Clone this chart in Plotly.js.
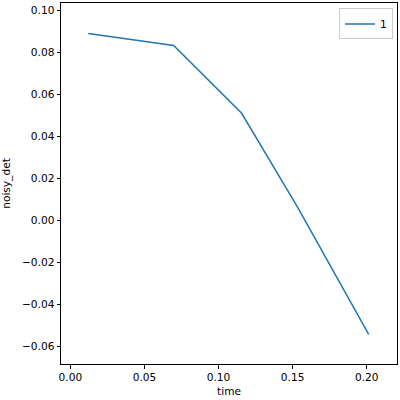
<!DOCTYPE html>
<html><head><meta charset="utf-8">
<script src="https://cdn.plot.ly/plotly-3.0.1.min.js"></script>
<style>html,body{margin:0;padding:0;background:#fff}</style>
</head><body>
<div id="chart" style="width:400px;height:400px"></div>
<script>
const time = [0.0121, 0.0697, 0.1156, 0.1536, 0.2013];
const noisyDet = [0.0890, 0.0833, 0.0510, 0.0059, -0.0543];
const seriesName = "1";
const xTicks = [0.00, 0.05, 0.10, 0.15, 0.20];
const xTickText = ["0.00", "0.05", "0.10", "0.15", "0.20"];
const yTicks = [-0.06, -0.04, -0.02, 0.00, 0.02, 0.04, 0.06, 0.08, 0.10];
const yTickText = ["\u22120.06", "\u22120.04", "\u22120.02", "0.00", "0.02", "0.04", "0.06", "0.08", "0.10"];

const F = {family: "DejaVu Sans", size: 10.6, color: "#000"};
const trace = {x: time, y: noisyDet, type: "scatter", mode: "lines", name: seriesName,
  line: {color: "#1f77b4", width: 1.5}};
const axisCommon = {showgrid: false, zeroline: false, showline: true, mirror: true,
  linecolor: "#000", linewidth: 1, ticks: "outside", ticklen: 3.5, tickwidth: 1, tickcolor: "#000",
  tickfont: F, tickmode: "array"};
const layout = {
  width: 400, height: 400,
  margin: {l: 61, r: 3, t: 3, b: 36},
  paper_bgcolor: "#fff", plot_bgcolor: "#fff",
  font: F,
  showlegend: true,
  legend: {x: 0.988, xanchor: "right", y: 0.985, yanchor: "top", bordercolor: "#ccc", borderwidth: 1,
    font: F, itemwidth: 30, bgcolor: "rgba(255,255,255,0.8)", tracegroupgap: 0},
  xaxis: Object.assign({}, axisCommon, {range: [-0.0063, 0.2204], tickvals: xTicks, ticktext: xTickText,
    title: {text: "time", font: F, standoff: 5}}),
  yaxis: Object.assign({}, axisCommon, {range: [-0.0684, 0.1035], tickvals: yTicks, ticktext: yTickText,
    title: {text: "noisy_det", font: F, standoff: 9}})
};
Plotly.newPlot("chart", [trace], layout, {displayModeBar: false, staticPlot: true});
</script>
</body></html>
